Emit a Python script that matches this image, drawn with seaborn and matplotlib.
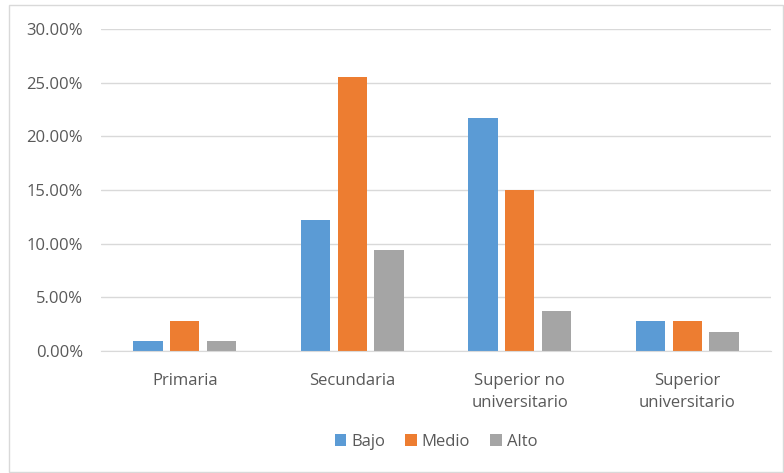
import numpy as np
import pandas as pd
import matplotlib.pyplot as plt
import matplotlib.ticker as mtick
import seaborn as sns

# datos
niveles = ['Primaria', 'Secundaria', 'Superior no\nuniversitario', 'Superior\nuniversitario']
series = ['Bajo', 'Medio', 'Alto']
bajo = [0.009, 0.122, 0.217, 0.028]
medio = [0.028, 0.255, 0.150, 0.028]
alto = [0.009, 0.094, 0.037, 0.018]
colores = ['#5b9bd5', '#ed7d31', '#a5a5a5']

df = pd.DataFrame({
    'Nivel': niveles * 3,
    'Serie': ['Bajo'] * 4 + ['Medio'] * 4 + ['Alto'] * 4,
    'Valor': bajo + medio + alto,
})

sns.set_style('white')
plt.rcParams['font.family'] = ['Open Sans', 'DejaVu Sans']
texto = '#595959'

fig = plt.figure(figsize=(7.84, 4.73), dpi=100)
ax = fig.add_axes([101 / 784, 1 - 351 / 473, 670 / 784, 322 / 473])

sns.barplot(data=df, x='Nivel', y='Valor', hue='Serie', order=niveles,
            hue_order=series, palette=colores, width=0.66, gap=0.2,
            saturation=1, linewidth=0, ax=ax, legend=True)

ax.set_ylim(0, 0.30)
ax.set_yticks(np.arange(0, 0.31, 0.05))
ax.yaxis.set_major_formatter(mtick.PercentFormatter(1.0, decimals=2))
ax.grid(axis='y', color='#d9d9d9', linewidth=1)
ax.set_axisbelow(True)
for lado in ['top', 'right', 'left']:
    ax.spines[lado].set_visible(False)
ax.spines['bottom'].set_color('#d9d9d9')
ax.set_xlabel('')
ax.set_ylabel('')
ax.tick_params(axis='both', length=0, labelsize=12, labelcolor=texto)
ax.tick_params(axis='y', pad=13)
ax.tick_params(axis='x', pad=16)
for etiqueta in ax.get_xticklabels():
    etiqueta.set_linespacing(1.45)

ax.legend(loc='center', bbox_to_anchor=(0.5 * 670 / 784 + 101 / 784, 1 - 442 / 473),
          bbox_transform=fig.transFigure, ncol=3, frameon=False,
          handlelength=0.7, handleheight=0.7, handletextpad=0.3,
          columnspacing=1.2, fontsize=12, labelcolor=texto)

# marco exterior
borde = plt.Rectangle((9 / 784, 0.002), 1 - 10 / 784, 1 - 5 / 473 - 0.002,
                      transform=fig.transFigure, fill=False,
                      edgecolor='#d9d9d9', linewidth=1)
fig.patches.append(borde)

fig.savefig('out.png', dpi=100)
